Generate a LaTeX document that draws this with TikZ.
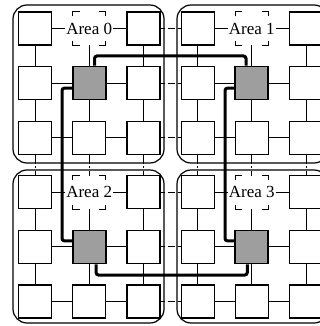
\documentclass[tikz,border=0pt]{standalone}
\usepackage{fontspec}
\setmainfont{Liberation Serif}
\begin{document}
\begin{tikzpicture}[x=1pt,y=-1pt,
  area/.style={draw, line width=1.2pt, rounded corners=14pt, inner sep=0pt, minimum width=151pt},
  nbox/.style={draw, line width=1.2pt, fill=white, minimum width=33pt, minimum height=33pt, inner sep=0pt},
  hub/.style={nbox, fill=black!38, line width=1.7pt},
  slot/.style={minimum width=33pt, minimum height=33pt, inner sep=0pt},
  link/.style={line width=1pt},
  xlinkh/.style={link, dash pattern=on 4.1pt off 3pt on 7pt off 3pt on 30pt},
  xlinkv/.style={link, dash pattern=on 8.8pt off 2.2pt on 2.6pt off 2.2pt on 30pt},
  route/.style={line width=3pt, rounded corners=2.5pt},
  lbl/.style={fill=white, inner sep=1pt, font=\fontsize{17}{19}\selectfont},
  bracket/.style={line width=1pt}]
\useasboundingbox (0,0) rectangle (320,326);
% areas
\node[area, minimum height=158pt] (a0) at (88.5,84) {};
\node[area, minimum height=158pt] (a1) at (252.5,84) {};
\node[area, minimum height=153pt] (a2) at (88.5,246.5) {};
\node[area, minimum height=153pt] (a3) at (252.5,246.5) {};
% nodes
\foreach \i/\j in {1/1,3/1,4/1,6/1,1/2,3/2,4/2,6/2,1/3,2/3,3/3,4/3,5/3,6/3,
                   1/4,3/4,4/4,6/4,1/5,3/5,4/5,6/5,1/6,2/6,3/6,4/6,5/6,6/6}
  \node[nbox] (b-\i-\j) at ({35+54.2*(\i-1)},{28.5+54.6*(\j-1)}) {};
\foreach \i/\j in {2/2,5/2,2/5,5/5}
  \node[hub] (b-\i-\j) at ({35+54.2*(\i-1)},{28.5+54.6*(\j-1)}) {};
\foreach \i/\j in {2/1,5/1,2/4,5/4}
  \node[slot] (b-\i-\j) at ({35+54.2*(\i-1)},{28.5+54.6*(\j-1)}) {};
% links
\foreach \j in {1,...,6}{
  \foreach \i/\n in {1/2,2/3,4/5,5/6}
    \draw[link] (b-\i-\j) -- (b-\n-\j);
  \draw[xlinkh] (b-3-\j) -- (b-4-\j);
}
\foreach \i in {1,...,6}{
  \foreach \j/\n in {1/2,2/3,4/5,5/6}
    \draw[link] (b-\i-\j) -- (b-\i-\n);
  \draw[xlinkv] (b-\i-3) -- (b-\i-4);
}
% routes
\draw[route] ([xshift=5.3pt]b-2-2.north) |- (170,56) -| ([xshift=-5.8pt]b-5-2.north);
\draw[route] ([yshift=-5pt]b-2-2.west) -| (62,165) |- ([yshift=6pt]b-2-5.west);
\draw[route] ([yshift=-5pt]b-5-2.west) -| (225,165) |- ([yshift=6pt]b-5-5.west);
\draw[route] ([xshift=6.8pt]b-2-5.south) |- (170,275) -| ([xshift=-4.5pt]b-5-5.south);
% label brackets and labels
\foreach \s/\t in {2-1/Area 0,5-1/Area 1,2-4/Area 2,5-4/Area 3}{
  \draw[bracket] ([yshift=-4.5pt]b-\s.north west) -- (b-\s.north west) -- ([xshift=7pt]b-\s.north west);
  \draw[bracket] ([yshift=-4.5pt]b-\s.north east) -- (b-\s.north east) -- ([xshift=-7pt]b-\s.north east);
  \draw[bracket] ([yshift=4.5pt]b-\s.south west) -- (b-\s.south west) -- ([xshift=7pt]b-\s.south west);
  \draw[bracket] ([yshift=4.5pt]b-\s.south east) -- (b-\s.south east) -- ([xshift=-7pt]b-\s.south east);
  \node[lbl] (l-\s) at (b-\s) {\t};
}
\end{tikzpicture}
\end{document}
